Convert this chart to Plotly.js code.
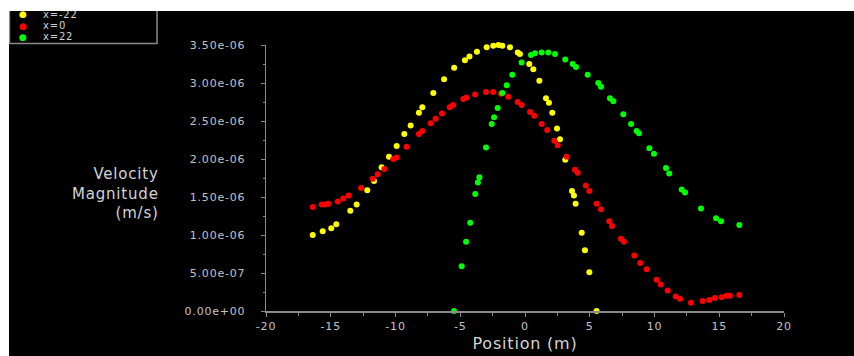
<!DOCTYPE html>
<html>
<head>
<meta charset="utf-8">
<script src="https://cdn.plot.ly/plotly-3.0.1.min.js"></script>
<style>
  html, body { margin: 0; padding: 0; background: #ffffff; }
  #chart { position: absolute; left: 9px; top: 11px; width: 845px; height: 345px; }
  svg text { letter-spacing: 0.8px; }
</style>
</head>
<body>
<div id="chart"></div>
<script>
// Series names
const seriesNames = ['x=-22', 'x=0', 'x=22'];
const seriesColors = ['#ffff00', '#ff0000', '#00ff00'];

// x=-22 (yellow)
const posYellow = [-16.39, -15.62, -14.96, -14.57, -13.49, -13.00, -12.18, -11.66, -11.07, -10.50,
  -9.91, -9.32, -8.83, -8.19, -7.93, -7.08, -6.25, -5.47, -4.64, -4.29,
  -3.71, -2.96, -2.45, -2.05, -1.75, -1.16, -0.56, -0.39, 0.33, 0.64,
  1.11, 1.62, 1.85, 2.11, 2.47, 2.70, 3.11, 3.63, 3.78, 3.91,
  4.38, 4.63, 4.97, 5.53];
const velYellow = [1.00e-6, 1.05e-6, 1.09e-6, 1.14e-6, 1.32e-6, 1.40e-6, 1.59e-6, 1.71e-6, 1.89e-6, 2.03e-6,
  2.17e-6, 2.33e-6, 2.44e-6, 2.61e-6, 2.68e-6, 2.87e-6, 3.05e-6, 3.20e-6, 3.30e-6, 3.35e-6,
  3.41e-6, 3.47e-6, 3.49e-6, 3.50e-6, 3.49e-6, 3.47e-6, 3.40e-6, 3.38e-6, 3.25e-6, 3.18e-6,
  3.03e-6, 2.80e-6, 2.74e-6, 2.61e-6, 2.40e-6, 2.26e-6, 1.99e-6, 1.58e-6, 1.52e-6, 1.41e-6,
  1.03e-6, 0.80e-6, 0.51e-6, 0.00];

// x=0 (red)
const posRed = [-16.39, -15.70, -15.44, -15.19, -14.46, -14.03, -13.61, -12.66, -11.76, -11.37,
  -10.86, -10.17, -9.91, -9.14, -8.19, -7.93, -7.28, -6.90, -6.41, -5.81,
  -5.56, -4.76, -4.53, -3.85, -3.01, -2.45, -1.85, -1.29, -0.57, -0.26,
  0.39, 0.72, 1.29, 1.72, 2.26, 2.53, 3.22, 3.86, 4.07, 4.69,
  4.97, 5.53, 5.87, 6.51, 6.72, 7.41, 7.64, 8.44, 8.90, 9.40,
  10.17, 10.48, 11.02, 11.64, 11.97, 12.82, 13.72, 14.23, 14.67, 15.19,
  15.57, 15.83, 16.55];
const velRed = [1.37e-6, 1.40e-6, 1.40e-6, 1.41e-6, 1.44e-6, 1.48e-6, 1.52e-6, 1.62e-6, 1.74e-6, 1.80e-6,
  1.87e-6, 2.00e-6, 2.02e-6, 2.16e-6, 2.33e-6, 2.37e-6, 2.47e-6, 2.53e-6, 2.60e-6, 2.68e-6,
  2.71e-6, 2.79e-6, 2.81e-6, 2.85e-6, 2.88e-6, 2.88e-6, 2.86e-6, 2.82e-6, 2.75e-6, 2.71e-6,
  2.62e-6, 2.57e-6, 2.46e-6, 2.38e-6, 2.24e-6, 2.18e-6, 2.03e-6, 1.86e-6, 1.82e-6, 1.65e-6,
  1.58e-6, 1.41e-6, 1.34e-6, 1.18e-6, 1.12e-6, 0.95e-6, 0.91e-6, 0.73e-6, 0.63e-6, 0.55e-6,
  0.41e-6, 0.35e-6, 0.27e-6, 0.19e-6, 0.16e-6, 0.11e-6, 0.13e-6, 0.145e-6, 0.17e-6, 0.18e-6,
  0.20e-6, 0.20e-6, 0.21e-6];

// x=22 (green)
const posGreen = [-5.48, -4.89, -4.55, -4.23, -3.84, -3.64, -3.52, -3.01, -2.57, -2.39,
  -2.11, -1.75, -1.41, -0.98, -0.26, 0.46, 0.77, 1.29, 1.80, 2.32,
  3.11, 3.68, 3.94, 4.84, 5.66, 5.87, 6.56, 6.82, 7.59, 8.19,
  8.62, 8.80, 9.60, 9.96, 10.89, 11.14, 12.10, 12.36, 13.59, 14.75,
  15.14, 16.55];
const velGreen = [0.00, 0.59e-6, 0.91e-6, 1.16e-6, 1.54e-6, 1.69e-6, 1.76e-6, 2.15e-6, 2.46e-6, 2.55e-6,
  2.67e-6, 2.87e-6, 2.97e-6, 3.11e-6, 3.27e-6, 3.37e-6, 3.39e-6, 3.40e-6, 3.40e-6, 3.38e-6,
  3.31e-6, 3.25e-6, 3.21e-6, 3.11e-6, 3.00e-6, 2.95e-6, 2.80e-6, 2.76e-6, 2.59e-6, 2.46e-6,
  2.37e-6, 2.34e-6, 2.14e-6, 2.07e-6, 1.88e-6, 1.81e-6, 1.60e-6, 1.56e-6, 1.35e-6, 1.22e-6,
  1.18e-6, 1.13e-6];

// Axis ticks
const yTickVals = [0, 5e-7, 1e-6, 1.5e-6, 2e-6, 2.5e-6, 3e-6, 3.5e-6];
const yTickText = ['0.00e+00', '5.00e-07', '1.00e-06', '1.50e-06', '2.00e-06', '2.50e-06', '3.00e-06', '3.50e-06'];
const xTickVals = [-20, -15, -10, -5, 0, 5, 10, 15, 20];
const xTickText = ['-20', '-15', '-10', '-5', '0', '5', '10', '15', '20'];

const FONT = 'DejaVu Sans, Arial, sans-serif';
const AXIS_GREY = '#8a8a8a';
const LABEL_GREY = '#c4c4c4';
const PAD = '\u00a0\u00a0\u00a0';   // gap between y labels and axis

const xs = [posYellow, posRed, posGreen];
const ys = [velYellow, velRed, velGreen];

const traces = seriesNames.map((name, i) => ({
  type: 'scatter',
  mode: 'markers',
  name: name,
  x: xs[i],
  y: ys[i],
  cliponaxis: false,
  marker: { color: seriesColors[i], size: 6, line: { width: 0 } }
}));

// Manual legend (box, markers, labels)
const legX0 = -0.4952, legX1 = -0.2104, legY0 = 1.0056, legY1 = 1.25;
const legMarkerX = -0.4672, legTextX = -0.4344;
const legRowsY = [1.1165, 1.0733, 1.0301];

const annotations = [];
seriesNames.forEach((name, i) => {
  annotations.push({
    xref: 'paper', yref: 'paper', x: legMarkerX, y: legRowsY[i],
    xanchor: 'center', yanchor: 'middle', showarrow: false,
    text: '●', font: { family: FONT, size: 9, color: seriesColors[i] }
  });
  annotations.push({
    xref: 'paper', yref: 'paper', x: legTextX, y: legRowsY[i],
    xanchor: 'left', yanchor: 'middle', showarrow: false,
    text: name, font: { family: FONT, size: 10, color: '#d0d0d0' }
  });
});
annotations.push({
  xref: 'paper', yref: 'paper', x: -0.2027, y: 0.4436,
  xanchor: 'right', yanchor: 'middle', align: 'right', showarrow: false,
  text: 'Velocity<br>Magnitude<br>(m/s)',
  font: { family: FONT, size: 15, color: '#d4d4d4' }
});

const axisCommon = {
  showgrid: false, zeroline: false, showline: true,
  linecolor: AXIS_GREY, linewidth: 1.5,
  ticks: 'outside', tickcolor: AXIS_GREY, ticklen: 4, tickwidth: 1,
  tickfont: { family: FONT, size: 11, color: LABEL_GREY },
  fixedrange: true
};

const layout = {
  width: 845, height: 345,
  margin: { l: 257, r: 70, t: 34, b: 45, pad: 0 },
  paper_bgcolor: '#000000', plot_bgcolor: '#000000',
  showlegend: false,
  font: { family: FONT, color: LABEL_GREY },
  xaxis: Object.assign({}, axisCommon, {
    range: [-20, 20],
    tickmode: 'array', tickvals: xTickVals, ticktext: xTickText,
    minor: { dtick: 2.5, tick0: 0, ticks: 'outside', ticklen: 3, tickcolor: AXIS_GREY, showgrid: false },
    title: { text: 'Position (m)', font: { family: FONT, size: 16, color: '#d4d4d4' }, standoff: 6 }
  }),
  yaxis: Object.assign({}, axisCommon, {
    range: [0, 3.5e-6],
    tickmode: 'array', tickvals: yTickVals, ticktext: yTickText.map(t => t + PAD),
    minor: { dtick: 2.5e-7, tick0: 0, ticks: 'outside', ticklen: 2, tickcolor: AXIS_GREY, showgrid: false }
  }),
  shapes: [{
    type: 'rect', xref: 'paper', yref: 'paper',
    x0: legX0, x1: legX1, y0: legY0, y1: legY1,
    line: { color: AXIS_GREY, width: 1.5 }, fillcolor: 'rgba(0,0,0,0)', layer: 'above'
  }],
  annotations: annotations
};

Plotly.newPlot('chart', traces, layout, { displayModeBar: false, staticPlot: true });
</script>
</body>
</html>
